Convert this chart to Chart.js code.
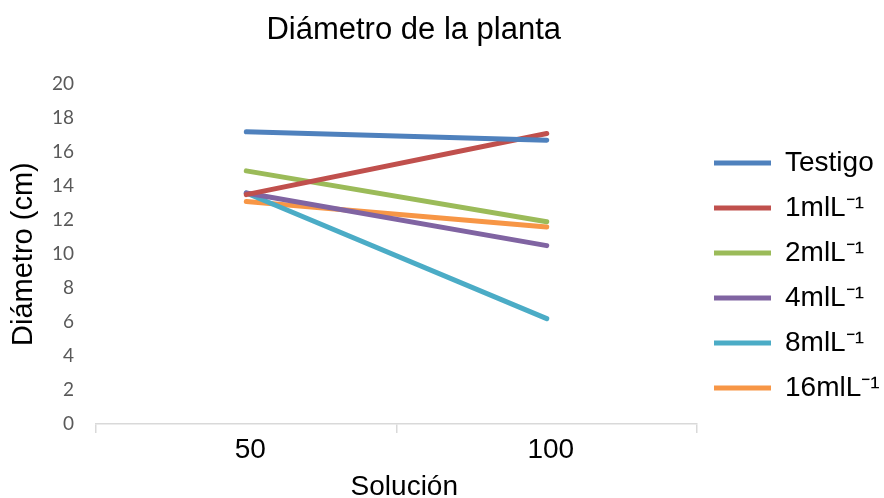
<!DOCTYPE html>
<html>
<head>
<meta charset="utf-8">
<script src="https://cdn.jsdelivr.net/npm/chart.js@4/dist/chart.umd.min.js"></script>
<style>
  html, body { margin: 0; padding: 0; background: #fff; }
  #wrap { width: 884px; height: 498px; }
</style>
</head>
<body>
<div id="wrap"><canvas id="c" width="884" height="498"></canvas></div>
<script>
// Solution levels on the x axis
const soluciones = ['50', '100'];

// Plant diameter (cm) for each treatment
const testigo = [17.2, 16.7];
const dosis1  = [13.5, 17.1];
const dosis2  = [14.9, 11.9];
const dosis4  = [13.6, 10.5];
const dosis8  = [13.6, 6.2];
const dosis16 = [13.1, 11.6];

const seriesNames = ['Testigo', '1mlL\u207B\u00B9', '2mlL\u207B\u00B9', '4mlL\u207B\u00B9', '8mlL\u207B\u00B9', '16mlL\u207B\u00B9'];
const seriesData = [testigo, dosis1, dosis2, dosis4, dosis8, dosis16];
const seriesColors = ['#4F81BD', '#C0504D', '#9BBB59', '#8064A2', '#4BACC6', '#F79646'];

const yTicks = { min: 0, max: 20, step: 2 };

const datasets = seriesNames.map((name, i) => ({
  label: name,
  data: seriesData[i],
  borderColor: seriesColors[i],
  backgroundColor: seriesColors[i],
  borderWidth: 5,
  borderCapStyle: 'round',
  pointStyle: 'line',
  pointRadius: 0,
  pointHoverRadius: 0,
  tension: 0
}));

new Chart(document.getElementById('c'), {
  type: 'line',
  data: { labels: soluciones, datasets },
  options: {
    responsive: false,
    animation: false,
    devicePixelRatio: 1,
    layout: { padding: { top: 0, left: 9, right: 0, bottom: -3 } },
    plugins: {
      tooltip: { enabled: false },
      title: {
        display: true,
        fullSize: false,
        text: '    Diámetro de la planta',
        color: '#000',
        font: { family: 'Liberation Sans', size: 31, weight: 'normal', lineHeight: 1.2 },
        padding: { top: 12, bottom: 35 }
      },
      legend: {
        position: 'right',
        align: 'center',
        maxWidth: 187,
        title: {
          display: true,
          text: ' ',
          font: { size: 20 },
          padding: { top: 13, bottom: 13 }
        },
        labels: {
          usePointStyle: true,
          pointStyle: 'line',
          pointStyleWidth: 57,
          boxHeight: 5,
          padding: 17,
          color: '#000',
          font: { family: 'Liberation Sans', size: 28 }
        }
      }
    },
    scales: {
      x: {
        offset: true,
        grid: {
          offset: true,
          drawOnChartArea: false,
          drawTicks: true,
          tickLength: 9,
          color: '#D9D9D9',
          lineWidth: 1.5
        },
        border: { display: true, color: '#D9D9D9', width: 1.5 },
        ticks: {
          color: '#000',
          padding: 3,
          labelOffset: 4,
          font: { family: 'Liberation Sans', size: 28, lineHeight: 1 }
        },
        title: {
          display: true,
          text: '  Solución',
          color: '#000',
          padding: { top: 6, bottom: 0 },
          font: { family: 'Liberation Sans', size: 28, lineHeight: 1 }
        }
      },
      y: {
        min: yTicks.min,
        max: yTicks.max,
        grid: { display: false },
        border: { display: false },
        ticks: {
          stepSize: yTicks.step,
          color: '#595959',
          padding: 14,
          font: { family: 'Lato', size: 19 }
        },
        title: {
          display: true,
          text: 'Diámetro (cm)',
          color: '#000',
          padding: { top: 0, bottom: 0 },
          font: { family: 'Liberation Sans', size: 29, lineHeight: 1 }
        }
      }
    }
  }
});
</script>
</body>
</html>
